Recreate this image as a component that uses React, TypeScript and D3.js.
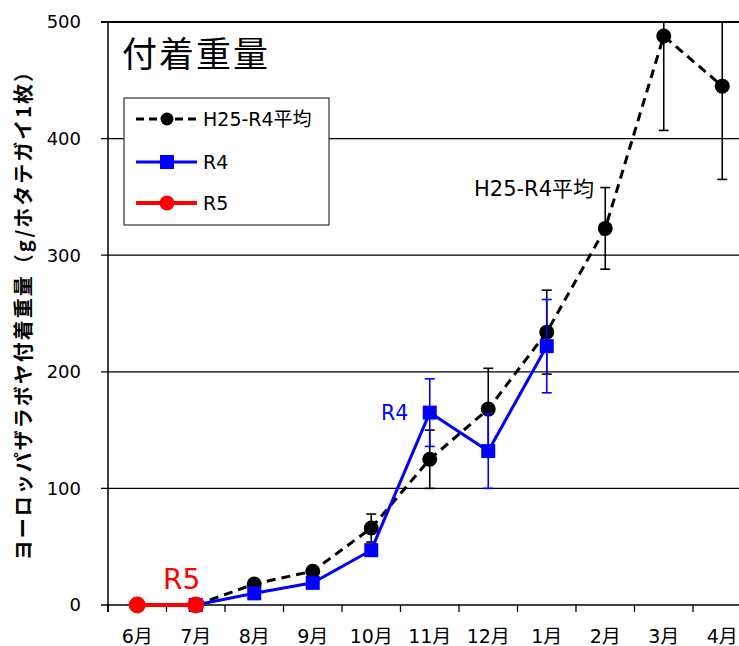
import React from "react";
import * as d3 from "d3";

const months = ["6月", "7月", "8月", "9月", "10月", "11月", "12月", "1月", "2月", "3月", "4月"];
const yTicks = [0, 100, 200, 300, 400, 500];

// H25-R4 average (starts at 7月)
const avgMonths = ["7月", "8月", "9月", "10月", "11月", "12月", "1月", "2月", "3月", "4月"];
const avgValues = [0, 18, 29, 66, 125, 168, 234, 323, 488, 445];
const avgErrors = [0, 3, 3, 12, 25, 35, 36, 35, 81, 80];

// R4
const r4Months = ["7月", "8月", "9月", "10月", "11月", "12月", "1月"];
const r4Values = [0, 10, 19, 47, 165, 132, 222];
const r4Errors = [0, 2, 2, 5, 29, 32, 40];

// R5
const r5Months = ["6月", "7月"];
const r5Values = [0, 0];

const W = 739;
const H = 646;
const left = 108;
const top = 22;
const bottom = 605;
const band = 58.5;

const FONT = "'DejaVu Sans', 'Noto Sans CJK JP', sans-serif";
const CJK = "'Noto Sans CJK JP', 'DejaVu Sans', sans-serif";

export default function App() {
  const x = d3.scaleBand<string>().domain(months).range([left, left + band * months.length]);
  const y = d3.scaleLinear().domain([0, 500]).range([bottom, top]);
  const cx = (m: string) => (x(m) as number) + x.bandwidth() / 2;
  const clampY = (v: number) => y(Math.max(0, Math.min(500, v)));

  const line = d3
    .line<[string, number]>()
    .x((d) => cx(d[0]))
    .y((d) => y(d[1]));

  const avgPts = avgMonths.map((m, i) => [m, avgValues[i]] as [string, number]);
  const r4Pts = r4Months.map((m, i) => [m, r4Values[i]] as [string, number]);
  const r5Pts = r5Months.map((m, i) => [m, r5Values[i]] as [string, number]);

  const errBars = (ms: string[], vs: number[], es: number[], color: string, key: string) =>
    ms.map((m, i) => {
      if (es[i] <= 0) return null;
      const hi = vs[i] + es[i];
      const lo = vs[i] - es[i];
      const X = cx(m);
      return (
        <g key={key + i} stroke={color} strokeWidth={1.6}>
          <line x1={X} x2={X} y1={clampY(hi)} y2={clampY(lo)} />
          {hi <= 500 && <line x1={X - 5} x2={X + 5} y1={y(hi)} y2={y(hi)} />}
          {lo >= 0 && <line x1={X - 5} x2={X + 5} y1={y(lo)} y2={y(lo)} />}
        </g>
      );
    });

  return (
    <svg width={W} height={H} style={{ position: "absolute", left: 0, top: 0, background: "#fff" }} fontFamily={FONT}>
      <defs>
        <clipPath id="plot">
          <rect x={left - 20} y={top - 1} width={W - left + 20} height={bottom - top + 14} />
        </clipPath>
      </defs>
      {/* gridlines */}
      {yTicks.map((t) => (
        <line key={"g" + t} x1={left - 7} x2={W} y1={y(t)} y2={y(t)} stroke="#000" strokeWidth={t === 500 ? 2.2 : 1.3} />
      ))}
      {/* y axis */}
      <line x1={left} x2={left} y1={top} y2={bottom + 7} stroke="#000" strokeWidth={1.5} />
      {/* x ticks */}
      {months.map((m) => (
        <line key={"xt" + m} x1={x(m) as number} x2={x(m) as number} y1={bottom} y2={bottom + 7} stroke="#000" strokeWidth={1.3} />
      ))}
      {/* y tick labels */}
      {yTicks.map((t) => (
        <text key={"yl" + t} x={81} y={y(t)} dy="0.36em" textAnchor="end" fontSize={18} fill="#000">
          {t}
        </text>
      ))}
      {/* x tick labels */}
      {months.map((m) => (
        <text key={"xl" + m} x={cx(m)} y={643} textAnchor="middle" fontSize={19} fill="#000">
          {m}
        </text>
      ))}
      {/* y axis title */}
      <text
        transform={`translate(31, 310) rotate(-90)`}
        textAnchor="middle"
        fontSize={20}
        fontWeight="bold"
        letterSpacing={2}
        fontFamily={CJK}
        fill="#000"
      >
        ヨーロッパザラボヤ付着重量（g/ホタテガイ1枚）
      </text>

      <g clipPath="url(#plot)">
        {errBars(avgMonths, avgValues, avgErrors, "#000", "ea")}
        <path d={line(avgPts) || ""} fill="none" stroke="#000" strokeWidth={3} strokeDasharray="9,6" />
        {avgPts.map((d, i) => (
          <circle key={"ac" + i} cx={cx(d[0])} cy={y(d[1])} r={7.5} fill="#000" />
        ))}
        {errBars(r4Months, r4Values, r4Errors, "#0000ff", "eb")}
        <path d={line(r4Pts) || ""} fill="none" stroke="#0000ff" strokeWidth={3} />
        {r4Pts.map((d, i) => (
          <rect key={"br" + i} x={cx(d[0]) - 7} y={y(d[1]) - 7} width={14} height={14} fill="#0000ff" />
        ))}
        <path d={line(r5Pts) || ""} fill="none" stroke="#ff0000" strokeWidth={4} />
        {r5Pts.map((d, i) => (
          <circle key={"rc" + i} cx={cx(d[0])} cy={y(d[1])} r={8.5} fill="#ff0000" />
        ))}
      </g>

      {/* annotations */}
      <text x={474} y={196} fontSize={21} fill="#000">H25-R4平均</text>
      <text x={381} y={420} fontSize={20.5} fill="#0000ff">R4</text>
      <text x={163} y={589} fontSize={28} fill="#ff0000">R5</text>

      {/* title */}
      <text x={122} y={67} fontSize={35} letterSpacing={2} fontFamily={CJK} fill="#000">付着重量</text>

      {/* legend */}
      <rect x={124} y={98} width={205} height={127} fill="#fff" stroke="#333" strokeWidth={1.2} />
      <line x1={136} x2={197} y1={119} y2={119} stroke="#000" strokeWidth={3} strokeDasharray="8,5" />
      <circle cx={167} cy={119} r={6.5} fill="#000" />
      <text x={203} y={119} dy="0.36em" fontSize={19} fill="#000">H25-R4平均</text>
      <line x1={136} x2={197} y1={162} y2={162} stroke="#0000ff" strokeWidth={3} />
      <rect x={160} y={155} width={14} height={14} fill="#0000ff" />
      <text x={203} y={162} dy="0.36em" fontSize={19} fill="#000">R4</text>
      <line x1={136} x2={197} y1={203} y2={203} stroke="#ff0000" strokeWidth={4} />
      <circle cx={167} cy={203} r={7.5} fill="#ff0000" />
      <text x={203} y={203} dy="0.36em" fontSize={19} fill="#000">R5</text>
    </svg>
  );
}
